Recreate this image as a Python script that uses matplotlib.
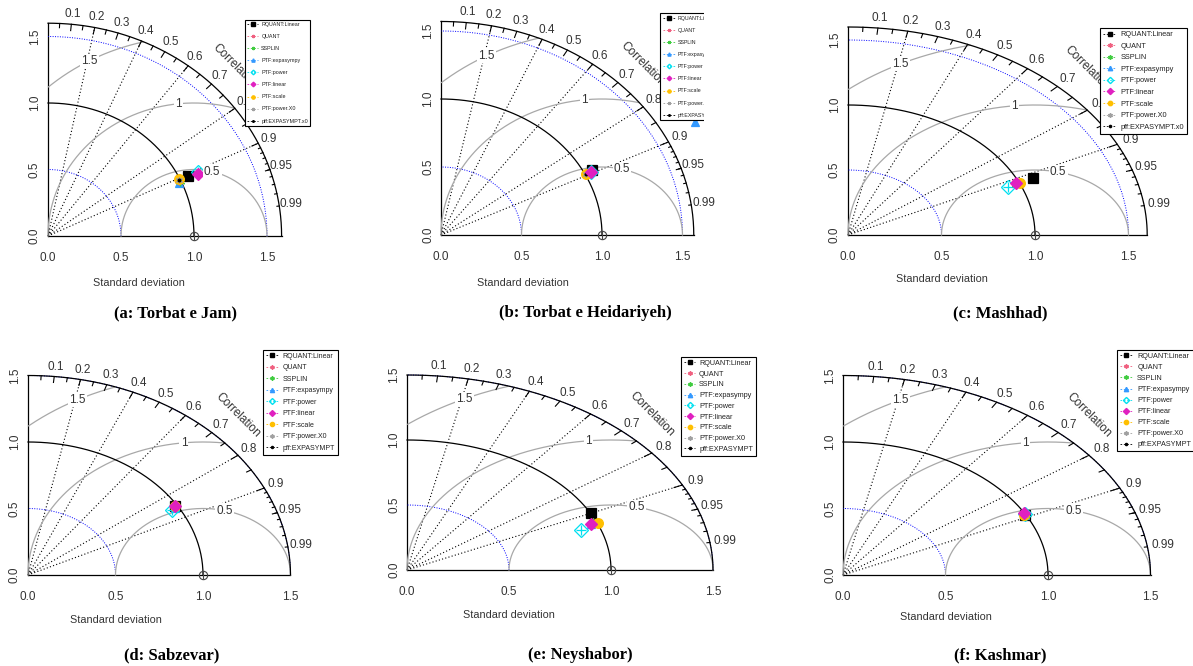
import numpy as np
import matplotlib
matplotlib.use('Agg')
import matplotlib.pyplot as plt
from matplotlib.lines import Line2D
from matplotlib.patches import Rectangle

W, H = 1193, 666
fig = plt.figure(figsize=(W / 100, H / 100), dpi=100)

models = ['RQUANT:Linear', 'QUANT', 'SSPLIN', 'PTF:expasympy', 'PTF:power',
          'PTF:linear', 'PTF:scale', 'PTF:power.X0', 'pff:EXPASYMPT.x0']
last_label = ['pff:EXPASYMPT.x0', 'pff:EXPASYMPT.x0', 'pff:EXPASYMPT.x0',
              'pff:EXPASYMPT', 'pff:EXPASYMPT', 'pff:EXPASYMPT']
titles = ['(a: Torbat e Jam)', '(b: Torbat e Heidariyeh)', '(c: Mashhad)',
          '(d: Sabzevar)', '(e: Neyshabor)', '(f: Kashmar)']

# standard deviation and correlation of each model, per station
sd_a = [1.06, 0.99, 0.99, 0.985, 1.135, 1.13, 0.995, 0.99, 0.99]
cor_a = [0.905, 0.906, 0.910, 0.914, 0.906, 0.910, 0.902, 0.906, 0.906]
sd_b = [1.055, 1.006, 1.006, 1.785, 1.04, 1.04, 1.006, 1.006, 1.006]
cor_b = [0.89, 0.894, 0.894, 0.885, 0.896, 0.896, 0.894, 0.894, 0.894]
sd_c = [1.083, 0.985, 0.98, 0.985, 0.933, 0.985, 1.003, 0.985, 0.985]
cor_c = [0.914, 0.914, 0.918, 0.914, 0.918, 0.914, 0.917, 0.914, 0.914]
sd_d = [0.99, 0.99, 0.99, 0.98, 0.96, 0.99, 0.99, 0.99, 0.99]
cor_d = [0.85, 0.85, 0.85, 0.86, 0.86, 0.85, 0.85, 0.85, 0.85]
sd_e = [1.0, 0.98, 0.98, 0.97, 0.907, 0.97, 1.003, 0.97, 0.97]
cor_e = [0.90, 0.93, 0.93, 0.93, 0.94, 0.93, 0.933, 0.93, 0.93]
sd_f = [0.995, 0.995, 0.995, 0.995, 1.0, 1.0, 0.99, 0.995, 0.995]
cor_f = [0.89, 0.89, 0.89, 0.89, 0.89, 0.885, 0.89, 0.89, 0.89]
sds = [sd_a, sd_b, sd_c, sd_d, sd_e, sd_f]
cors = [cor_a, cor_b, cor_c, cor_d, cor_e, cor_f]

colors = ['black', '#f06080', '#40cc40', '#3399ff', '#00e0f0', '#e020c0',
          '#ffbf00', '#a0a0a0', 'black']
markers = ['s', (6, 2, 0), (6, 2, 0), '^', 'D', 'D', 'o', (6, 2, 0), '.']
msizes = [7, 7, 7, 6, 7, 6, 7, 5, 4]
fills = [True, True, True, True, False, True, True, True, True]

# layout (pixels): origin x, origin y, px per unit x, px per unit y, max sd
geom = [(48, 236, 146, 133, 1.6), (441, 235, 161, 136, 1.57), (848, 235, 187, 130, 1.6),
        (28, 575, 175, 133, 1.5), (407, 570, 204, 130, 1.5), (843, 575, 205, 133, 1.5)]
# x-label position in data units along x, and pixel y
xlab_pos = [(0.62, 283), (0.51, 283), (0.5, 279), (0.5, 620), (0.5, 615), (0.5, 617)]
# legend: left, top (px), font size, labelspacing, borderpad, handlelength, handletextpad
legend_cfg = [(245, 20, 3.9, 1.3, 0.4, 2.0, 0.6),
              (660, 13, 3.8, 1.35, 0.5, 2.3, 0.6),
              (1100, 28, 5.3, 0.6, 0.4, 1.8, 0.6),
              (263, 350, 5.0, 0.65, 0.4, 1.8, 0.6),
              (681, 357, 5.2, 0.51, 0.4, 1.6, 0.5),
              (1117, 350, 5.2, 0.55, 0.4, 1.8, 0.6)]
title_pos = [(175, 313), (585, 313), (1000, 313), (172, 655), (580, 655), (1000, 655)]

L = 1.8
sans = 'Liberation Sans'
tcol = '#333333'

for k in range(6):
    ox, oy, sx, sy, m = geom[k]
    ax = fig.add_axes([ox / W, (H - oy) / H, L * sx / W, L * sy / H])
    ax.set_xlim(0, L)
    ax.set_ylim(0, L)
    ax.axis('off')
    # correlation lines
    for g in [0.2, 0.4, 0.6, 0.8, 0.9]:
        ax.plot([0, m * g], [0, m * np.sqrt(1 - g * g)], ls=(0, (1, 2)), color='black', lw=0.8, clip_on=False)
    # axes
    ax.plot([0, m], [0, 0], color='black', lw=0.9, clip_on=False)
    ax.plot([0, 0], [0, m], color='black', lw=0.9, clip_on=False)
    ticks = [0.0, 0.5, 1.0, 1.5]
    for t in ticks:
        ax.text(t, -22 / sy, f'{t:.1f}', ha='center', va='center', fontsize=8.5, color=tcol, family=sans)
        ax.text(-13 / sx, t, f'{t:.1f}', ha='center', va='center', fontsize=8.5, color=tcol, family=sans, rotation=90)
    xl, yl = xlab_pos[k]
    ax.text(xl, -(yl - oy) / sy, 'Standard deviation', ha='center', va='center', fontsize=7.8,
            color=tcol, family=sans)
    # sd arcs
    th = np.linspace(0, np.pi / 2, 200)
    for s in [0.5, 1.5]:
        ax.plot(s * np.cos(th), s * np.sin(th), color='blue', ls=(0, (1, 1.5)), lw=0.7, clip_on=False)
    # gamma contours
    gam = [0.5, 1.0, 1.5]
    lpos = [45, 57, 70]
    for gi, gv in enumerate(gam):
        t2 = np.linspace(0, np.pi, 600)
        xc = 1 + gv * np.cos(t2)
        yc = gv * np.sin(t2)
        ok = (xc >= 0) & (xc ** 2 + yc ** 2 <= m * m)
        ax.plot(np.where(ok, xc, np.nan), np.where(ok, yc, np.nan), color='#a8a8a8', lw=0.9, clip_on=False)
        ang = (lpos[gi] - 1) * 0.03
        lab = '1' if gv == 1.0 else f'{gv:g}'
        ax.text(1 + gv * np.cos(ang), gv * np.sin(ang), lab, ha='center', va='center', fontsize=8.5,
                color=tcol, family=sans,
                bbox=dict(boxstyle='square,pad=0.1', fc='white', ec='none'))
    # outer arc
    ax.plot(m * np.cos(th), m * np.sin(th), color='black', lw=0.9, clip_on=False)
    # ref sd arc
    ax.plot(np.cos(th), np.sin(th), color='black', lw=0.9, clip_on=False)
    # ticks on outer arc
    for vals, f in [(np.arange(0.1, 0.91, 0.1), 0.97), (np.arange(0.05, 0.96, 0.1), 0.98),
                    (np.arange(0.91, 0.995, 0.01), 0.99)]:
        a = np.arccos(vals)
        for aa in a:
            ax.plot([m * np.cos(aa), f * m * np.cos(aa)], [m * np.sin(aa), f * m * np.sin(aa)],
                    color='black', lw=0.8, clip_on=False)
    labs = [0.1, 0.2, 0.3, 0.4, 0.5, 0.6, 0.7, 0.8, 0.9, 0.95, 0.99]
    for v in labs:
        aa = np.arccos(v)
        ax.text(1.05 * m * np.cos(aa), 1.05 * m * np.sin(aa), f'{v:g}', ha='center', va='center',
                fontsize=8.5, color=tcol, family=sans)
    ax.text(0.8 * m, 0.8 * m, 'Correlation', rotation=-45, ha='center', va='center', fontsize=8.5,
            color=tcol, family=sans)
    # reference point
    ax.plot([1.0], [0.0], marker='o', ms=6, mfc='none', mec='#444444', mew=0.8, clip_on=False)
    ax.plot([1.0], [0.0], marker='|', ms=6, color='#444444', mew=0.8, clip_on=False)
    # model points
    sd = np.array(sds[k])
    cr = np.array(cors[k])
    xs = sd * cr
    ys = sd * np.sin(np.arccos(cr))
    order = [0, 3, 4, 1, 2, 6, 7, 8, 5]
    for i in order:
        ax.plot([xs[i]], [ys[i]], marker=markers[i], ms=msizes[i], color=colors[i],
                mfc=colors[i] if fills[i] else 'none', mew=0.9, ls='none', clip_on=False)
        if i == 4:
            ax.plot([xs[i]], [ys[i]], marker='+', ms=msizes[i], color=colors[i], mew=0.9, clip_on=False)
    # legend
    lx, ly, lfs, lsp, lbp, lhl, lhtp = legend_cfg[k]
    handles = []
    for i in range(9):
        handles.append(Line2D([0], [0], color=colors[i], ls=(0, (2, 2)), lw=0.6, marker=markers[i],
                              ms=lfs * 0.6, mfc=colors[i] if fills[i] else 'none', mec=colors[i]))
    labels = models[:-1] + [last_label[k]]
    leg = ax.legend(handles, labels, loc='upper left', bbox_to_anchor=(lx / W, 1 - ly / H),
                    bbox_transform=fig.transFigure, frameon=True, fancybox=False,
                    edgecolor='black', framealpha=1, borderpad=lbp, labelspacing=lsp,
                    handlelength=lhl, handletextpad=lhtp, borderaxespad=0,
                    prop={'family': sans, 'size': lfs})
    leg.get_frame().set_linewidth(0.8)
    for t in leg.get_texts():
        t.set_color('#222222')
    tx, ty = title_pos[k]
    fig.text(tx / W, 1 - ty / H, titles[k], ha='center', va='center', fontsize=12,
             fontweight='bold', family='Liberation Serif')

# panel (b) image is cropped at its right edge
fig.patches.append(Rectangle((704 / W, 1 - 125 / H), 40 / W, 125 / H, transform=fig.transFigure,
                             fc='white', ec='none', zorder=10))

fig.savefig('out.png', dpi=100)
